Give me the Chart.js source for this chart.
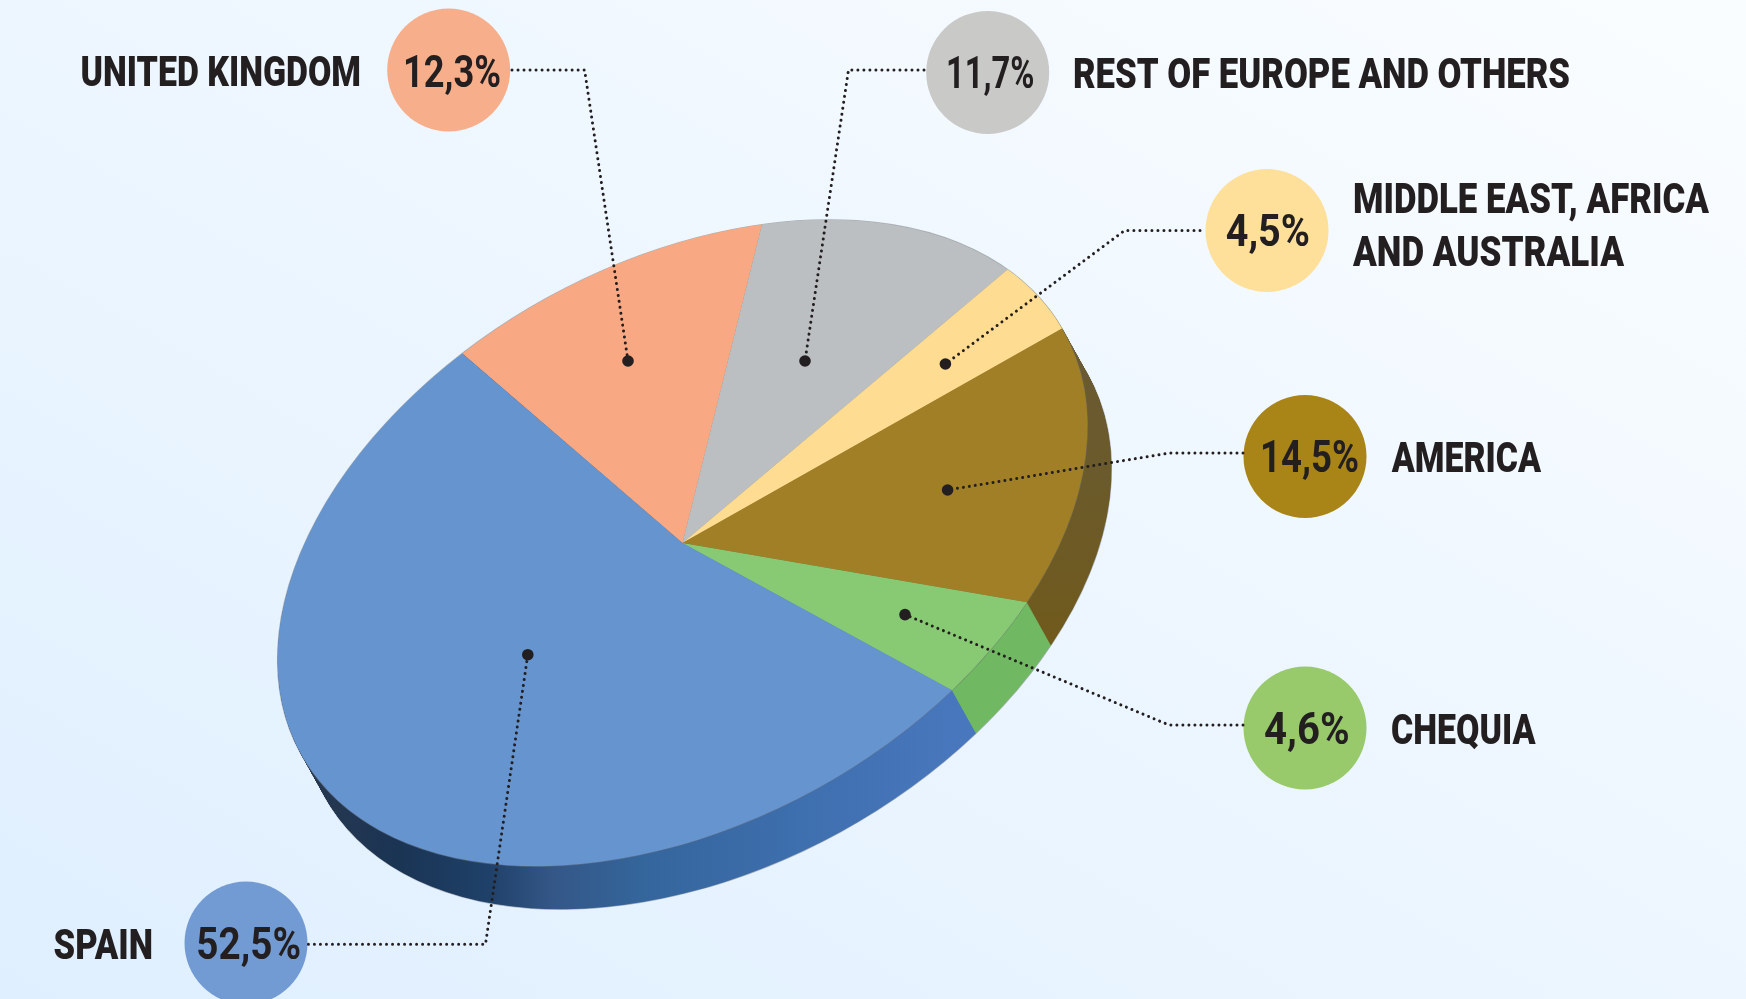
<!DOCTYPE html>
<html>
<head>
<meta charset="utf-8">
<style>
html,body{margin:0;padding:0;width:1746px;height:999px;overflow:hidden;background:linear-gradient(to top right,#dfefff,#fafdff);}
canvas{display:block;}
</style>
<script src="https://cdn.jsdelivr.net/npm/chart.js@4/dist/chart.umd.min.js"></script>
</head>
<body>
<canvas id="c" width="1746" height="999"></canvas>
<script>
// Data, clockwise from the United Kingdom slice
const categories = ["UNITED KINGDOM","REST OF EUROPE AND OTHERS","MIDDLE EAST, AFRICA AND AUSTRALIA","AMERICA","CHEQUIA","SPAIN"];
const values = [12.3,11.7,4.5,14.5,4.6,52.5];
const sliceColors = ["#f8a882","#bcbfc1","#fedc91","#a07f27","#88c973","#6694cf"];
const badgeColors = ["#f7ae8b","#c9c9c7","#fee09b","#a98518","#98c96a","#729bd3"];

// Layout of the tilted disc
const tilt = { cx:682.5, cy:543, a:436, b:280, angleDeg:-28.9, dx:24, dy:43, rotationDeg:-13.4 };

// Side wall shading for each slice: gradient ends and [offset, colour] stops
const sideShades = [
  {from:[0,0],to:[0,1],stops:[[0,"#c07a58"],[1,"#c07a58"]]},
  {from:[0,0],to:[0,1],stops:[[0,"#8a8c8e"],[1,"#8a8c8e"]]},
  {from:[0,0],to:[0,1],stops:[[0,"#b89a55"],[1,"#b89a55"]]},
  {from:[0,330],to:[0,640],stops:[[0,"#6a5a34"],[0.5,"#6b5a2a"],[1,"#705a1c"]]},
  {from:[0,0],to:[0,1],stops:[[0,"#70b862"],[1,"#70b862"]]},
  {from:[300,0],to:[985,0],stops:[[0.015,"#27384f"],[0.146,"#1a3454"],[0.277,"#1f4169"],[0.37,"#345787"],[0.496,"#34659b"],[0.73,"#3e6fae"],[0.993,"#4a78bf"]]}
];

// Annotation layout, same order as the categories
const badgeCentres = [[448.7,70],[987.7,72.4],[1267,230.5],[1305,456.5],[1305,728],[246,943]];
const badgeRadius = 61.5;
const percentBoxes = [[403,501,71],[946,1034.5,72],[1225.7,1310,230],[1260,1359,456],[1264,1349.6,728],[196.3,301,943]];
const labelLines = [
  [["UNITED KINGDOM",80.5,361,71]],
  [["REST OF EUROPE AND OTHERS",1073,1570,72.5]],
  [["MIDDLE EAST, AFRICA",1353,1709,198],["AND AUSTRALIA",1353,1624,251]],
  [["AMERICA",1391.7,1541,457]],
  [["CHEQUIA",1391,1535.5,728.5]],
  [["SPAIN",53.6,153,944]]
];
const leaders = [
  [[512,70],[584.6,70],[628,361]],
  [[924,70],[848.5,70],[805,361]],
  [[1200,230.5],[1124.6,230.5],[945.4,364]],
  [[1243,453],[1169,453],[947.6,490]],
  [[1243,725],[1169,725],[905,614.6]],
  [[308.4,944.3],[485.5,944.3],[527.8,654.7]]
];
const inkColor = "#231f20";
const rimColor = "rgba(110,115,120,0.55)";

function applyTilt(ctx, arc, sx, sy){
  const k = Math.PI/180;
  ctx.setTransform(1,0,0,1,0,0);
  ctx.translate(arc.x+sx, arc.y+sy);
  ctx.rotate(tilt.angleDeg*k);
  ctx.scale(tilt.a/arc.outerRadius, tilt.b/arc.outerRadius);
  ctx.translate(-arc.x,-arc.y);
}
function sideGradient(ctx, s){
  const g = ctx.createLinearGradient(s.from[0],s.from[1],s.to[0],s.to[1]);
  s.stops.forEach(p=>g.addColorStop(p[0],p[1]));
  return g;
}
function rim(ctx, arc, sx, sy){
  applyTilt(ctx,arc,sx,sy);
  ctx.beginPath();
  ctx.arc(arc.x,arc.y,arc.outerRadius,0,Math.PI*2);
  ctx.setTransform(1,0,0,1,0,0);
  ctx.strokeStyle = rimColor;
  ctx.lineWidth = 1.2;
  ctx.stroke();
}
function fitText(ctx, text, x0, x1, cy, font, cap){
  ctx.save();
  ctx.font = font;
  ctx.textAlign = "left";
  ctx.textBaseline = "alphabetic";
  ctx.fillStyle = inkColor;
  const w = ctx.measureText(text).width;
  ctx.translate(x0, cy+cap/2);
  ctx.scale((x1-x0)/w, 1);
  ctx.fillText(text, 0, 0);
  ctx.restore();
}
const tiltedPie = {
  id:"tiltedPie",
  beforeDatasetsDraw(chart){
    const ctx = chart.ctx, arcs = chart.getDatasetMeta(0).data;
    ctx.save();
    const fills = sideShades.map(s=>sideGradient(ctx,s));
    const steps = Math.ceil(Math.hypot(tilt.dx,tilt.dy))*2;
    rim(ctx,arcs[0],tilt.dx,tilt.dy);
    for(let n=steps;n>=1;n--){
      const sx = tilt.dx*n/steps, sy = tilt.dy*n/steps;
      arcs.forEach((arc,i)=>{
        applyTilt(ctx,arc,sx,sy);
        ctx.beginPath();
        ctx.moveTo(arc.x,arc.y);
        ctx.arc(arc.x,arc.y,arc.outerRadius,arc.startAngle,arc.endAngle);
        ctx.closePath();
        ctx.setTransform(1,0,0,1,0,0);
        ctx.fillStyle = fills[i];
        ctx.fill();
      });
    }
    rim(ctx,arcs[0],0,0);
    ctx.restore();
    ctx.save();
    applyTilt(ctx,arcs[0],0,0);
  },
  afterDatasetsDraw(chart){
    chart.ctx.restore();
  },
  afterDraw(chart){
    const ctx = chart.ctx;
    ctx.save();
    badgeCentres.forEach((c,i)=>{
      ctx.beginPath();
      ctx.arc(c[0],c[1],badgeRadius,0,Math.PI*2);
      ctx.fillStyle = badgeColors[i];
      ctx.fill();
    });
    leaders.forEach(l=>{
      ctx.beginPath();
      ctx.setLineDash([0.01,6]);
      ctx.lineCap = "round";
      ctx.lineWidth = 3;
      ctx.strokeStyle = inkColor;
      ctx.moveTo(l[0][0],l[0][1]);
      ctx.lineTo(l[1][0],l[1][1]);
      ctx.lineTo(l[2][0],l[2][1]);
      ctx.stroke();
      ctx.setLineDash([]);
      ctx.beginPath();
      ctx.arc(l[2][0],l[2][1],5.8,0,Math.PI*2);
      ctx.fillStyle = inkColor;
      ctx.fill();
    });
    values.forEach((v,i)=>{
      const b = percentBoxes[i];
      fitText(ctx, v.toFixed(1).replace(".",",")+"%", b[0],b[1],b[2], '700 44px Roboto', 31);
    });
    labelLines.forEach(lines=>lines.forEach(t=>{
      fitText(ctx, t[0], t[1],t[2],t[3], '900 42px Roboto', 30);
    }));
    ctx.restore();
  }
};

new Chart(document.getElementById("c"),{
  type:"pie",
  data:{labels:categories,datasets:[{data:values,backgroundColor:sliceColors,borderWidth:0,clip:false}]},
  plugins:[tiltedPie],
  options:{
    responsive:false,
    animation:false,
    rotation:tilt.rotationDeg,
    layout:{padding:{left:0,top:2*tilt.cy-999,right:1746-2*tilt.cx,bottom:0}},
    plugins:{legend:{display:false},tooltip:{enabled:false}}
  }
});
</script>
</body>
</html>
